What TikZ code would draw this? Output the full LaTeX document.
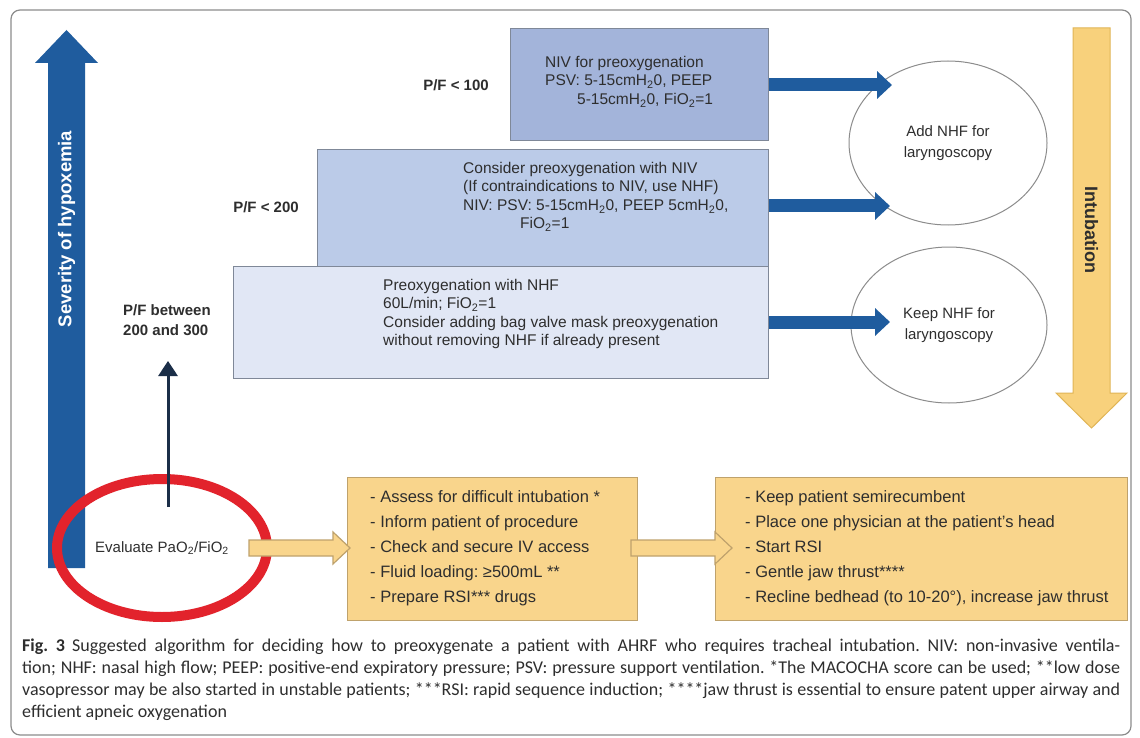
\documentclass[tikz,border=0pt]{standalone}
\usepackage{fontspec}
\setmainfont{Liberation Sans}
\newfontfamily\capfont{Carlito}
\usetikzlibrary{arrows.meta,calc,shapes.geometric}
\definecolor{sevblue}{HTML}{1F5C9E}
\definecolor{boxone}{HTML}{A3B4DA}
\definecolor{boxtwo}{HTML}{BBCBE8}
\definecolor{boxthree}{HTML}{E1E7F5}
\definecolor{boxline}{HTML}{7F8898}
\definecolor{yfill}{HTML}{F9D58C}
\definecolor{yline}{HTML}{BFA26C}
\definecolor{ifill}{HTML}{F8D17C}
\definecolor{iline}{HTML}{E0B556}
\definecolor{ringred}{HTML}{E2232C}
\definecolor{navy}{HTML}{1B2E48}
\definecolor{txtcol}{HTML}{2E2E2E}
\definecolor{framecol}{HTML}{8C8C8C}
\frenchspacing
\begin{document}
\begin{tikzpicture}[x=1pt,y=-1pt,
  bluebox/.style={draw=boxline, line width=1.2pt, anchor=north west, inner sep=0pt},
  boxtext/.style={inner sep=0pt, anchor=north west, align=left, text=txtcol, font=\fontsize{15.5}{18.5}\selectfont},
  pflabel/.style={inner sep=0pt, align=left, text=txtcol, font=\bfseries\fontsize{15}{20}\selectfont},
  ybox/.style={draw=yline, fill=yfill, line width=1.3pt, anchor=north west, inner sep=0pt},
  ytext/.style={inner sep=0pt, anchor=north west, align=left, text=txtcol, font=\fontsize{16.5}{25}\selectfont},
  oval/.style={ellipse, draw=framecol, line width=1pt, fill=white, inner sep=0pt, align=center, text=txtcol, font=\fontsize{15}{21}\selectfont},
  bigarrow/.style={sevblue, line width=13pt, -{Triangle[length=15pt,width=27pt]}},
  yarrow/.style={draw=yline, fill=yfill, line width=1.2pt, line join=miter}
]
\useasboundingbox (0,0) rectangle (1140,738);
\fill[white] (0,0) rectangle (1140,738);
\draw[framecol, line width=1.2pt, rounded corners=9pt] (11,10) rectangle (1131,735);

% severity arrow
\fill[sevblue] (48,568) -- (48,63) -- (35,63) -- (66.5,30) -- (98,63) -- (85,63) -- (85,568) -- cycle;
\node[rotate=90, text=white, font=\bfseries\fontsize{18.5}{20}\selectfont, inner sep=0pt] (sev) at (66.5,229) {Severity of hypoxemia};

% intubation arrow
\draw[draw=iline, fill=ifill, line width=1pt, line join=miter] (1073,28) -- (1110,28) -- (1110,393) -- (1127,393) -- (1091.5,428) -- (1056,393) -- (1073,393) -- cycle;
\node[rotate=-90, text=txtcol, font=\bfseries\fontsize{18}{20}\selectfont, inner sep=0pt] (intub) at (1091.5,230) {Intubation};

% blue boxes
\node[bluebox, fill=boxone, minimum width=258pt, minimum height=112pt] (b1) at (510,28) {};
\node[bluebox, fill=boxtwo, minimum width=451pt, minimum height=118pt] (b2) at (317,149) {};
\node[bluebox, fill=boxthree, minimum width=535pt, minimum height=112pt] (b3) at (233,266) {};

\node[boxtext] (t1) at (545,56) {NIV for preoxygenation\\PSV: 5-15cmH\textsubscript{2}0, PEEP\\\hspace*{32pt}5-15cmH\textsubscript{2}0, FiO\textsubscript{2}=1};
\node[boxtext] (t2) at (463,162) {Consider preoxygenation with NIV\\(If contraindications to NIV, use NHF)\\NIV: PSV: 5-15cmH\textsubscript{2}0, PEEP 5cmH\textsubscript{2}0,\\\hspace*{57pt}FiO\textsubscript{2}=1};
\node[boxtext] (t3) at (383,279) {Preoxygenation with NHF\\60L/min; FiO\textsubscript{2}=1\\Consider adding bag valve mask preoxygenation\\without removing NHF if already present};

\node[pflabel] (p1) at (456,85) {P/F < 100};
\node[pflabel] (p2) at (266,207) {P/F < 200};
\node[pflabel] (p3) at (167,320) {P/F between\\200 and 300};

% ellipses
\node[oval, minimum width=198pt, minimum height=164pt] (e1) at (948,143) {Add NHF for\\laryngoscopy};
\node[oval, minimum width=196pt, minimum height=156pt] (e2) at (949,325) {Keep NHF for\\laryngoscopy};

% blue arrows
\coordinate (a1) at (892,85);
\coordinate (a2) at (890,206);
\coordinate (a3) at (890,322);
\draw[bigarrow] (b1.east |- a1) -- (a1);
\draw[bigarrow] (b2.east |- a2) -- (a2);
\draw[bigarrow] (b3.east |- a3) -- (a3);

% red ring
\node[ellipse, draw=ringred, line width=10pt, minimum width=210pt, minimum height=138pt, inner sep=0pt, text=txtcol, font=\fontsize{15}{18}\selectfont] (e0) at (162,548) {Evaluate PaO\textsubscript{2}/FiO\textsubscript{2}};

% thin arrow
\coordinate (c0) at (168,507);
\coordinate (c1) at (168,361);
\draw[navy, line width=3pt, -{Triangle[length=15pt,width=19pt]}] (c0) -- (c1);

% yellow boxes
\node[ybox, minimum width=290pt, minimum height=143pt] (y1) at (347,477) {};
\node[ybox, minimum width=412pt, minimum height=143pt] (y2) at (715,477) {};
\node[ytext] (yt1) at (370,490) {- Assess for difficult intubation *\\- Inform patient of procedure\\- Check and secure IV access\\- Fluid loading: ≥500mL **\\- Prepare RSI*** drugs};
\node[ytext] (yt2) at (745,490) {- Keep patient semirecumbent\\- Place one physician at the patient's head\\- Start RSI\\- Gentle jaw thrust****\\- Recline bedhead (to 10-20°), increase jaw thrust};

% yellow arrows
\coordinate (ya1) at (249,548);
\coordinate (ya2) at (631,548);
\draw[yarrow] let \p1=(ya1), \p2=(y1.west) in
  (\x1,\y1+8pt) -- (\x2-14pt,\y1+8pt) -- (\x2-14pt,\y1+16pt) -- (\x2+3pt,\y1) -- (\x2-14pt,\y1-16pt) -- (\x2-14pt,\y1-8pt) -- (\x1,\y1-8pt) -- cycle;
\draw[yarrow] let \p1=(ya2), \p2=(y2.west) in
  (\x1,\y1+8pt) -- (\x2,\y1+8pt) -- (\x2,\y1+16pt) -- (\x2+17pt,\y1) -- (\x2,\y1-16pt) -- (\x2,\y1-8pt) -- (\x1,\y1-8pt) -- cycle;

% caption
\node[inner sep=0pt, anchor=north west, text width=1098pt, align=justify, text=txtcol, font=\capfont\fontsize{18}{22}\selectfont] (cap) at (22,639)
{\textbf{Fig.\nobreakspace3}\hspace{7pt}Suggested algorithm for deciding how to preoxygenate a patient with AHRF who requires tracheal intubation. NIV: non-invasive ventila-\linebreak tion; NHF: nasal high flow; PEEP: positive-end expiratory pressure; PSV: pressure support ventilation. *The MACOCHA score can be used; **low dose\linebreak vasopressor may be also started in unstable patients; ***RSI: rapid sequence induction; ****jaw thrust is essential to ensure patent upper airway and\linebreak efficient apneic oxygenation};
\end{tikzpicture}
\end{document}
